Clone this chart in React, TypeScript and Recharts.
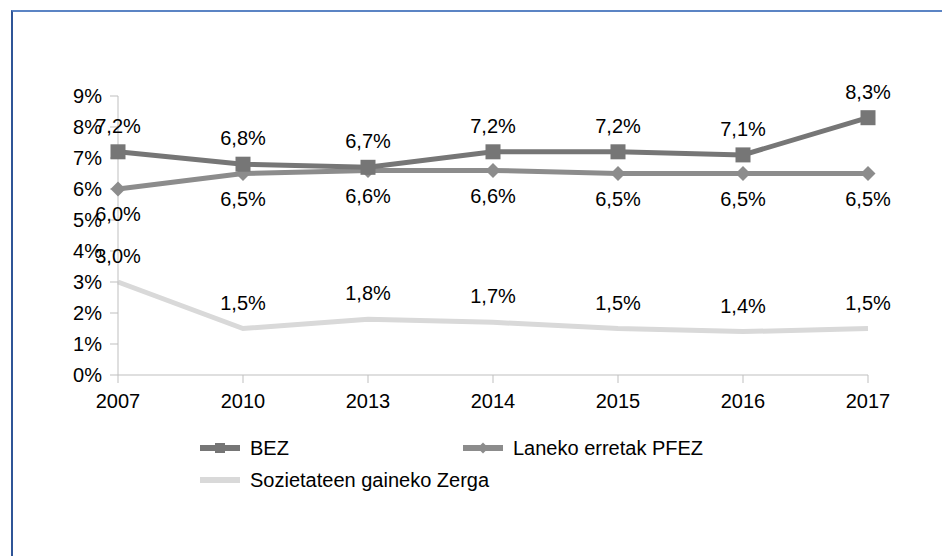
import { LineChart, Line, XAxis, YAxis, LabelList } from "recharts";

const years = ["2007", "2010", "2013", "2014", "2015", "2016", "2017"];
const bez = [7.2, 6.8, 6.7, 7.2, 7.2, 7.1, 8.3];
const pfez = [6.0, 6.5, 6.6, 6.6, 6.5, 6.5, 6.5];
const sozietate = [3.0, 1.5, 1.8, 1.7, 1.5, 1.4, 1.5];
const yTicks = [0, 1, 2, 3, 4, 5, 6, 7, 8, 9];

const FONT = "'Liberation Sans', Arial, sans-serif";
const TEXT = "#000";
const AXIS = "#bfbfbf";
const FS = 20;

const series = [
  { key: "bez", name: "BEZ", color: "#767676", marker: "square" },
  { key: "pfez", name: "Laneko erretak PFEZ", color: "#8c8c8c", marker: "diamond" },
  { key: "soz", name: "Sozietateen gaineko Zerga", color: "#d9d9d9", marker: "none" },
];

const data = years.map((year, i) => ({
  year,
  bez: bez[i],
  pfez: pfez[i],
  soz: sozietate[i],
}));

const fmt = (v: any) => `${String(v.toFixed(1)).replace(".", ",")}%`;

function SquareDot(props: any) {
  const { cx, cy } = props;
  if (cx == null || cy == null) return null;
  return <rect x={cx - 7.5} y={cy - 7.5} width={15} height={15} fill="#767676" />;
}

function DiamondDot(props: any) {
  const { cx, cy } = props;
  if (cx == null || cy == null) return null;
  return (
    <polygon
      points={`${cx},${cy - 7.5} ${cx + 7.5},${cy} ${cx},${cy + 7.5} ${cx - 7.5},${cy}`}
      fill="#8c8c8c"
    />
  );
}

function LegendIcon({ color, marker }: { color: string; marker: string }) {
  return (
    <svg width={40} height={14} style={{ marginRight: 10 }}>
      <line x1={0} y1={7} x2={40} y2={7} stroke={color} strokeWidth={6} />
      {marker === "square" && <rect x={15} y={2} width={10} height={10} fill={color} />}
      {marker === "diamond" && (
        <polygon points="20,1.5 25.5,7 20,12.5 14.5,7" fill={color} />
      )}
    </svg>
  );
}

export default function App() {
  const legendPos = [
    { left: 200, top: 437 },
    { left: 463, top: 437 },
    { left: 200, top: 469 },
  ];
  const labelStyle = { fill: TEXT, fontSize: FS, fontFamily: FONT };
  return (
    <div
      style={{
        position: "absolute",
        left: 0,
        top: 0,
        width: 942,
        height: 556,
        background: "#fff",
        fontFamily: FONT,
        overflow: "hidden",
      }}
    >
      <div
        style={{
          position: "absolute",
          left: 11,
          top: 10,
          width: 960,
          height: 600,
          borderTop: "2px solid #5b84c4",
          borderLeft: "2px solid #2f5597",
        }}
      />
      <div style={{ position: "absolute", left: 0, top: 0 }}>
        <LineChart
          width={942}
          height={556}
          data={data}
          margin={{ top: 96, right: 74, left: 0, bottom: 151 }}
        >
          <XAxis
            dataKey="year"
            stroke={AXIS}
            tickSize={8}
            tickMargin={11}
            height={30}
            tick={{ fill: TEXT, fontSize: FS, fontFamily: FONT }}
            interval={0}
          />
          <YAxis
            domain={[0, 9]}
            ticks={yTicks}
            width={118}
            stroke={AXIS}
            tickSize={8}
            tickMargin={8}
            tickFormatter={(v) => `${v}%`}
            tick={{ fill: TEXT, fontSize: FS, fontFamily: FONT }}
            interval={0}
          />
          <Line
            dataKey="soz"
            name={series[2].name}
            stroke={series[2].color}
            strokeWidth={5}
            dot={false}
            isAnimationActive={false}
          >
            <LabelList dataKey="soz" position="top" offset={19} formatter={fmt} style={labelStyle} />
          </Line>
          <Line
            dataKey="pfez"
            name={series[1].name}
            stroke={series[1].color}
            strokeWidth={5}
            dot={<DiamondDot />}
            isAnimationActive={false}
          >
            <LabelList dataKey="pfez" position="bottom" offset={18} formatter={fmt} style={labelStyle} />
          </Line>
          <Line
            dataKey="bez"
            name={series[0].name}
            stroke={series[0].color}
            strokeWidth={5}
            dot={<SquareDot />}
            isAnimationActive={false}
          >
            <LabelList dataKey="bez" position="top" offset={19} formatter={fmt} style={labelStyle} />
          </Line>
        </LineChart>
      </div>
      {series.map((s, i) => (
        <div
          key={s.key}
          style={{
            position: "absolute",
            left: legendPos[i].left,
            top: legendPos[i].top,
            display: "flex",
            alignItems: "center",
            fontSize: FS,
            color: TEXT,
            lineHeight: "22px",
          }}
        >
          <LegendIcon color={s.color} marker={s.marker} />
          <span>{s.name}</span>
        </div>
      ))}
    </div>
  );
}
